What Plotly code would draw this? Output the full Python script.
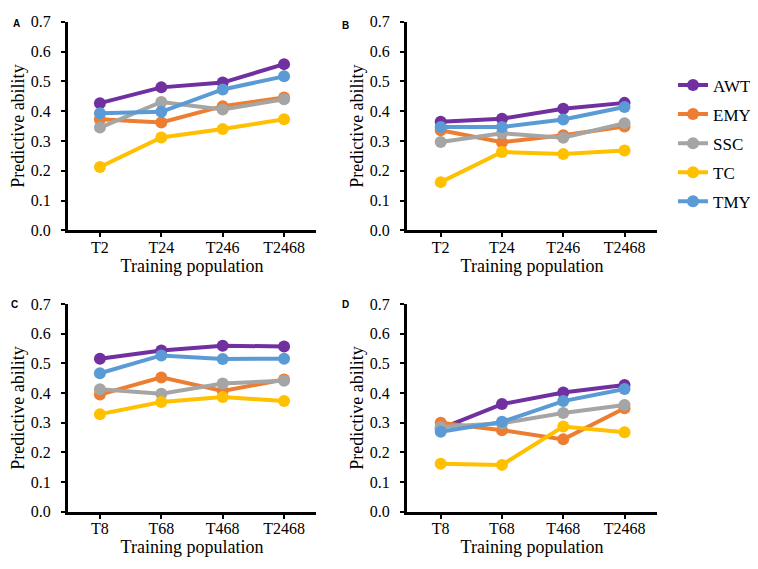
import plotly.graph_objects as go

cats_top = ["T2", "T24", "T246", "T2468"]
cats_bot = ["T8", "T68", "T468", "T2468"]
series = ["AWT", "EMY", "SSC", "TC", "TMY"]
colors = ["#7030A0", "#ED7D31", "#A5A5A5", "#FFC000", "#5B9BD5"]

A_AWT = [0.427, 0.480, 0.496, 0.558]
A_EMY = [0.373, 0.362, 0.417, 0.446]
A_SSC = [0.345, 0.431, 0.406, 0.440]
A_TC = [0.213, 0.312, 0.340, 0.373]
A_TMY = [0.393, 0.398, 0.473, 0.517]

B_AWT = [0.365, 0.375, 0.408, 0.428]
B_EMY = [0.336, 0.296, 0.319, 0.349]
B_SSC = [0.297, 0.326, 0.311, 0.360]
B_TC = [0.162, 0.263, 0.256, 0.268]
B_TMY = [0.347, 0.347, 0.372, 0.414]

C_AWT = [0.516, 0.544, 0.560, 0.557]
C_EMY = [0.395, 0.453, 0.407, 0.446]
C_SSC = [0.413, 0.398, 0.432, 0.442]
C_TC = [0.329, 0.370, 0.387, 0.373]
C_TMY = [0.467, 0.527, 0.515, 0.516]

D_AWT = [0.280, 0.363, 0.402, 0.427]
D_EMY = [0.300, 0.275, 0.244, 0.349]
D_SSC = [0.286, 0.298, 0.333, 0.360]
D_TC = [0.162, 0.158, 0.287, 0.268]
D_TMY = [0.270, 0.303, 0.373, 0.414]

panels = [
    ("A", cats_top, [A_AWT, A_EMY, A_SSC, A_TC, A_TMY]),
    ("B", cats_top, [B_AWT, B_EMY, B_SSC, B_TC, B_TMY]),
    ("C", cats_bot, [C_AWT, C_EMY, C_SSC, C_TC, C_TMY]),
    ("D", cats_bot, [D_AWT, D_EMY, D_SSC, D_TC, D_TMY]),
]

W, H = 758, 569
FONT = "'Liberation Serif', 'Times New Roman', serif"

# pixel boxes (x0, x1, ytop, ybottom)
boxes = [(60, 308, 6, 221), (399, 649, 6, 221), (60, 308, 297, 511), (399, 649, 297, 511)]
xranges = [[-0.52, 3.52], [-0.55, 3.53], [-0.52, 3.52], [-0.55, 3.53]]

fig = go.Figure()
for i, (label, cats, vals) in enumerate(panels):
    ax = "" if i == 0 else str(i + 1)
    for name, col, v in zip(series, colors, vals):
        fig.add_trace(go.Scatter(
            x=list(range(len(cats))), y=v, name=name, mode="lines+markers",
            line=dict(color=col, width=4), marker=dict(color=col, size=12),
            legendgroup=name,
            xaxis="x" + ax, yaxis="y" + ax, showlegend=(i == 0)))
    x0, x1, yt, yb = boxes[i]
    fig.layout["xaxis" + ax] = dict(
        domain=[x0 / W, x1 / W], range=xranges[i], anchor="y" + ax,
        tickmode="array", tickvals=list(range(len(cats))), ticktext=cats,
        showgrid=False, zeroline=False, showline=True, linecolor="black", linewidth=3,
        ticks="outside", ticklen=4, tickwidth=2, tickcolor="black",
        ticklabelstandoff=-4,
        tickfont=dict(family=FONT, size=16, color="black"),
        title=dict(text="Training population", font=dict(family=FONT, size=18, color="black"), standoff=2))
    fig.layout["yaxis" + ax] = dict(
        domain=[1 - yb / H, 1 - yt / H], range=[0, 0.7], anchor="x" + ax,
        tickmode="array", tickvals=[0, 0.1, 0.2, 0.3, 0.4, 0.5, 0.6, 0.7],
        ticktext=["0.0", "0.1", "0.2", "0.3", "0.4", "0.5", "0.6", "0.7"],
        showgrid=False, zeroline=False, showline=True, linecolor="black", linewidth=3,
        ticks="outside", ticklen=4, tickwidth=2, tickcolor="black",
        ticklabelstandoff=7,
        tickfont=dict(family=FONT, size=16, color="black"),
        title=dict(text="Predictive ability", font=dict(family=FONT, size=18, color="black"), standoff=2))
    lx = [8, 337, 6, 337][i]
    ly = [8, 10, 297, 297][i]
    fig.add_annotation(text="<b>" + label + "</b>", x=lx / W, y=1 - ly / H, xref="paper", yref="paper",
                       showarrow=False, xanchor="center", yanchor="middle",
                       font=dict(family="Liberation Sans, Arial", size=10, color="black"))

fig.update_layout(
    width=W, height=H, margin=dict(l=0, r=0, t=0, b=0),
    paper_bgcolor="white", plot_bgcolor="white",
    legend=dict(x=665 / W, y=1 - 53 / H, xanchor="left", yanchor="top",
                font=dict(family=FONT, size=17, color="black"),
                tracegroupgap=4, itemwidth=30, bgcolor="rgba(0,0,0,0)"),
)

fig.write_html("out.html")
